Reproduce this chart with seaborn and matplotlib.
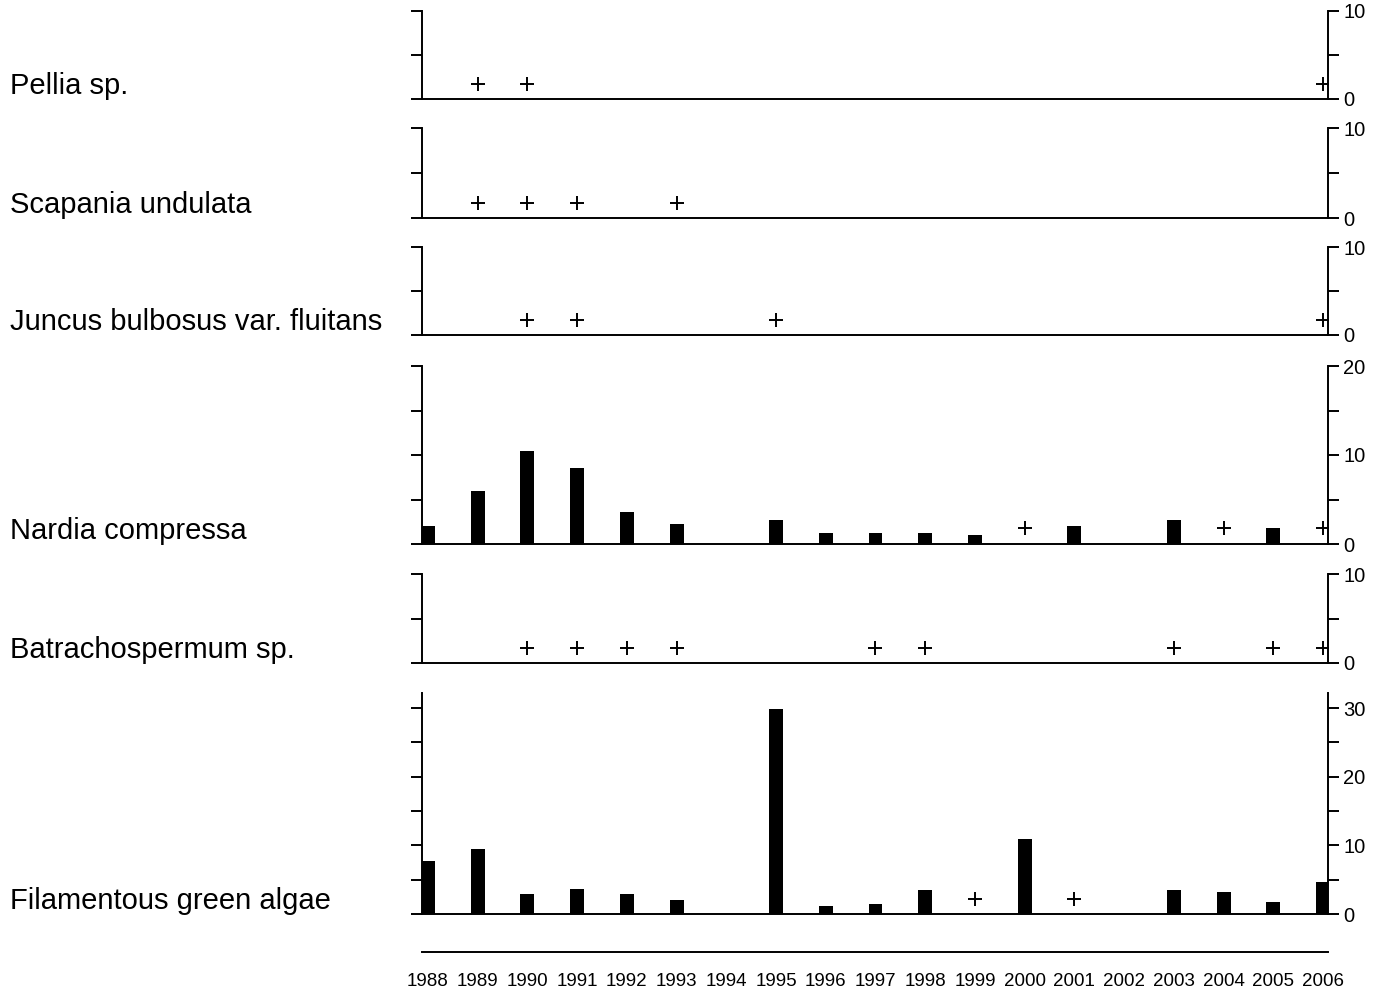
import numpy as np
import pandas as pd
import matplotlib
matplotlib.use('Agg')
import matplotlib.pyplot as plt
import seaborn as sns

sns.set_style('white')
plt.rcParams['font.family'] = ['Liberation Sans', 'DejaVu Sans']
plt.rcParams['text.color'] = 'black'

# ---------------- data ----------------
years = list(range(1988, 2007))

taxa = ['Pellia sp.', 'Scapania undulata', 'Juncus bulbosus var. fluitans',
        'Nardia compressa', 'Batrachospermum sp.', 'Filamentous green algae']

# cover values (bars), None = no bar
pellia_cover = [None] * 19
scapania_cover = [None] * 19
juncus_cover = [None] * 19
nardia_cover = [2.0, 6.0, 10.5, 8.5, 3.6, 2.3, None, 2.7, 1.2, 1.2,
                1.2, 1.0, None, 2.0, None, 2.7, None, 1.8, None]
batracho_cover = [None] * 19
algae_cover = [7.7, 9.4, 2.9, 3.7, 2.9, 2.0, None, 29.9, 1.2, 1.45,
               3.45, None, 10.9, None, None, 3.45, 3.15, 1.7, 4.6]

# years where the taxon was present only as "+"
pellia_plus = [1989, 1990, 2006]
scapania_plus = [1989, 1990, 1991, 1993]
juncus_plus = [1990, 1991, 1995, 2006]
nardia_plus = [2000, 2004, 2006]
batracho_plus = [1990, 1991, 1992, 1993, 1997, 1998, 2003, 2005, 2006]
algae_plus = [1999, 2001]

# y level at which "+" is drawn (panel units)
plus_level = [1.75, 1.7, 1.75, 1.8, 1.7, 2.2]

y_max = [10, 10, 10, 20, 10, 32.2]
y_ticks = [[0, 5, 10], [0, 5, 10], [0, 5, 10], [0, 5, 10, 15, 20],
           [0, 5, 10], [0, 5, 10, 15, 20, 25, 30]]
y_labels = [['0', '', '10'], ['0', '', '10'], ['0', '', '10'],
            ['0', '', '10', '', '20'], ['0', '', '10'],
            ['0', '', '10', '', '20', '', '30']]

covers = [pellia_cover, scapania_cover, juncus_cover, nardia_cover, batracho_cover, algae_cover]
pluses = [pellia_plus, scapania_plus, juncus_plus, nardia_plus, batracho_plus, algae_plus]

# panel pixel rows (top, bottom)
rows = [(11, 99), (128, 218), (247, 335), (366, 544), (574, 663), (693, 914)]

W, H = 1380, 993
fig = plt.figure(figsize=(W / 100, H / 100), dpi=100)

x0, x1 = 422, 1328
xlim = (1987.88, 2006.1)
lw = 1.4

def px_rect(left, top, right, bottom):
    return [left / W, 1 - bottom / H, (right - left) / W, (bottom - top) / H]

for i, name in enumerate(taxa):
    top, bot = rows[i]
    ax = fig.add_axes(px_rect(x0, top, x1, bot))
    df = pd.DataFrame({'year': years, 'cover': covers[i]}).dropna()
    if len(df):
        sns.barplot(data=df, x='year', y='cover', native_scale=True, width=0.28,
                    color='black', saturation=1, errorbar=None, linewidth=0, ax=ax)
    if pluses[i]:
        pdf = pd.DataFrame({'year': pluses[i], 'lvl': [plus_level[i]] * len(pluses[i])})
        sns.scatterplot(data=pdf, x='year', y='lvl', marker='+', s=110, color='black',
                        linewidth=1.4, ax=ax, zorder=3)
    ax.set_xlim(*xlim)
    ax.set_ylim(0, y_max[i])
    ax.set_xticks([])
    ax.set_yticks(y_ticks[i])
    ax.set_yticklabels(y_labels[i])
    ax.set_xlabel('')
    ax.set_ylabel('')
    for s in ['left', 'right', 'bottom']:
        ax.spines[s].set_visible(True)
        ax.spines[s].set_linewidth(lw)
        ax.spines[s].set_color('black')
    ax.spines['top'].set_visible(False)
    ax.tick_params(axis='y', left=True, right=True, labelleft=False, labelright=True,
                   direction='out', length=8, width=lw, pad=3, labelsize=14.5, colors='black')
    ax.patch.set_alpha(0)
    fig.text(10 / W, 1 - (bot - 13) / H, name, fontsize=21, va='center', ha='left', color='black')

# year axis at the bottom
axb = fig.add_axes(px_rect(x0, 930, x1, 952))
axb.set_xlim(*xlim)
axb.set_ylim(0, 1)
axb.set_xticks(years)
axb.set_xticklabels([str(y) for y in years])
axb.set_yticks([])
for s in ['left', 'right', 'top']:
    axb.spines[s].set_visible(False)
axb.spines['bottom'].set_linewidth(lw)
axb.spines['bottom'].set_color('black')
axb.tick_params(axis='x', direction='out', length=9, width=lw, pad=6, labelsize=13.5, colors='black')
axb.patch.set_alpha(0)

fig.savefig('out.png', dpi=100)
